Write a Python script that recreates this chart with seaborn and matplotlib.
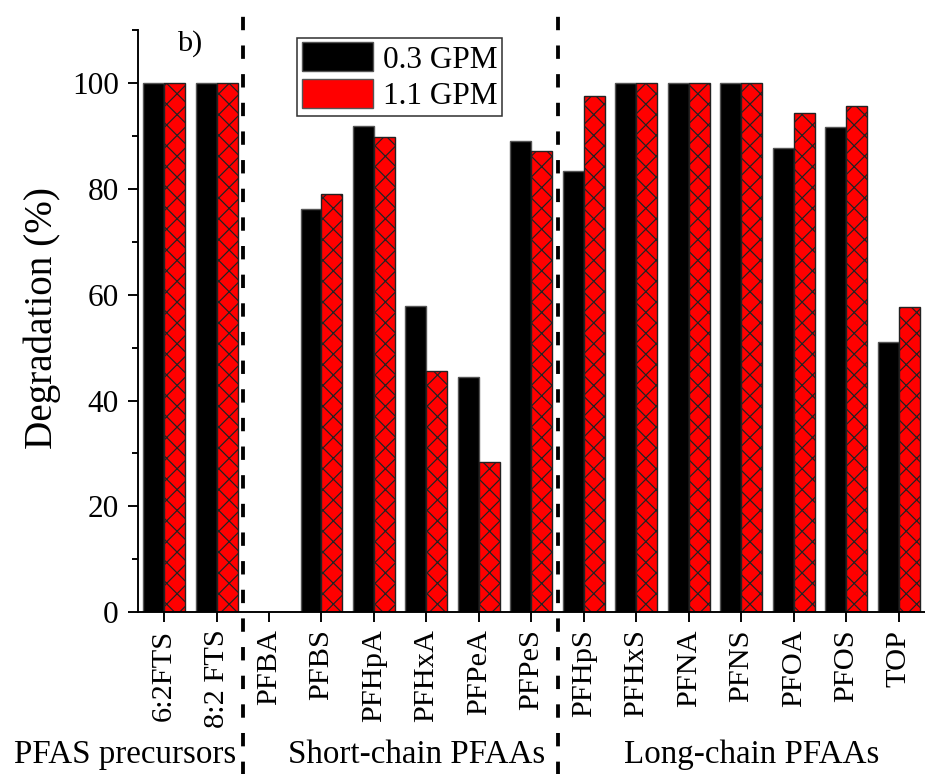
import matplotlib
matplotlib.use("Agg")
import matplotlib.pyplot as plt
import seaborn as sns
import pandas as pd

# Data
compounds = ["6:2FTS", "8:2 FTS", "PFBA", "PFBS", "PFHpA", "PFHxA", "PFPeA", "PFPeS",
             "PFHpS", "PFHxS", "PFNA", "PFNS", "PFOA", "PFOS", "TOP"]
gpm_03 = [100, 100, 0, 76.3, 91.8, 57.8, 44.4, 89.0, 83.4, 100, 100, 100, 87.7, 91.7, 51.0]
gpm_11 = [100, 100, 0, 79.0, 89.9, 45.6, 28.4, 87.1, 97.5, 100, 100, 100, 94.3, 95.6, 57.6]
flow_labels = ["0.3 GPM", "1.1 GPM"]
group_names = ["PFAS precursors", "Short-chain PFAAs", "Long-chain PFAAs"]
group_x = [0.135, 0.450, 0.813]
group_breaks = [1.5, 7.5]

df = pd.DataFrame({
    "compound": compounds * 2,
    "degradation": gpm_03 + gpm_11,
    "flow": [flow_labels[0]] * len(compounds) + [flow_labels[1]] * len(compounds),
})

sns.set_style("ticks")
plt.rcParams["font.family"] = ["Liberation Serif", "DejaVu Serif"]
plt.rcParams["text.color"] = "black"
plt.rcParams["axes.labelcolor"] = "black"
plt.rcParams["xtick.color"] = "black"
plt.rcParams["ytick.color"] = "black"
plt.rcParams["axes.edgecolor"] = "black"
plt.rcParams["hatch.linewidth"] = 0.7
plt.rcParams["hatch.color"] = "black"

fig = plt.figure(figsize=(7.4, 6.192), dpi=125)
ax = fig.add_axes([0.149, 0.209, 0.851, 0.752])

sns.barplot(data=df, x="compound", y="degradation", hue="flow",
            palette=["black", "#ff0000"], saturation=1, width=0.8,
            edgecolor="#555555", linewidth=0.8, ax=ax)

for bar in ax.containers[1]:
    bar.set_hatch("xx")
    bar.set_edgecolor("#222222")

ax.set_xlim(-0.5, 14.5)
ax.set_ylim(0, 110)
ax.set_yticks([0, 20, 40, 60, 80, 100])
ax.set_yticks([10, 30, 50, 70, 90, 110], minor=True)
ax.set_xlabel("")
ax.set_ylabel("Degradation (%)", fontsize=22.5)
ax.yaxis.set_label_coords(-0.097, 0.506)
ax.tick_params(axis="x", labelsize=17.5, rotation=90, length=6, width=1.1, pad=4)
ax.tick_params(axis="y", which="major", labelsize=18, length=6, width=1.1, pad=5)
ax.tick_params(axis="y", which="minor", length=3.5, width=1.1)
sns.despine(ax=ax, top=True, right=True)
for side in ["left", "bottom"]:
    ax.spines[side].set_linewidth(1.1)

for xb in group_breaks:
    ax.axvline(xb, ymin=-0.28, ymax=1.045, color="black", lw=2.2,
               linestyle=(0, (3.5, 4)), clip_on=False)

ax.text(0.49, 107.4, "b)", fontsize=17.5, ha="center", va="center")

for name, gx in zip(group_names, group_x):
    fig.text(gx, 0.025, name, fontsize=19, ha="center", va="center")

leg = ax.legend(loc="upper left", bbox_to_anchor=(0.202, 0.987), fontsize=18,
                frameon=True, fancybox=False, edgecolor="black",
                handlelength=2.3, handleheight=1.05, labelspacing=0.13,
                borderpad=0.15, handletextpad=0.3, borderaxespad=0)
leg.get_frame().set_linewidth(0.9)

fig.savefig("out.png", dpi=125)
